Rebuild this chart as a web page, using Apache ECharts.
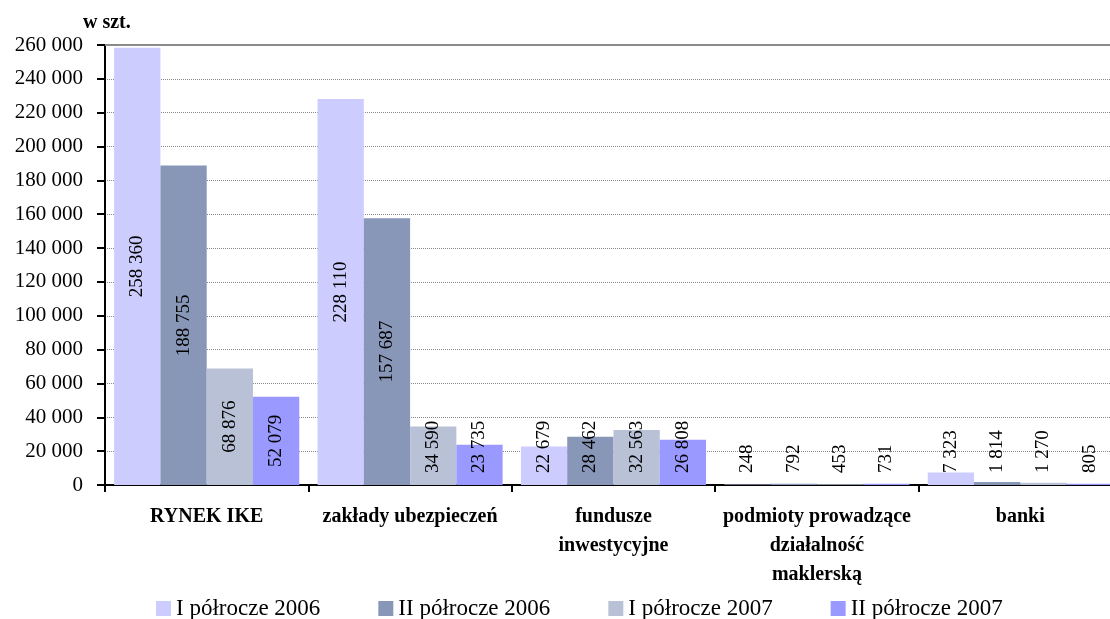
<!DOCTYPE html>
<html>
<head>
<meta charset="utf-8">
<script src="https://cdn.jsdelivr.net/npm/echarts@6/dist/echarts.min.js"></script>
<style>
html,body{margin:0;padding:0;background:#fff;overflow:hidden;width:1110px;height:619px;}
#chart{width:1122px;height:619px;}
</style>
</head>
<body>
<div id="chart"></div>
<script>
const categories = ['RYNEK IKE', 'zakłady ubezpieczeń', 'fundusze\ninwestycyjne', 'podmioty prowadzące\ndziałalność\nmaklerską', 'banki'];
const seriesNames = ['I półrocze 2006', 'II półrocze 2006', 'I półrocze 2007', 'II półrocze 2007'];
const h1_2006 = [258360, 228110, 22679, 248, 7323];
const h2_2006 = [188755, 157687, 28462, 792, 1814];
const h1_2007 = [68876, 34590, 32563, 453, 1270];
const h2_2007 = [52079, 23735, 26808, 731, 805];
const colors = ['#CCCCFF', '#8896B8', '#B8C1D6', '#9999FF'];
const yMin = 0, yMax = 260000, yInterval = 20000;

const FONT = 'Liberation Serif';
function fmt(v) {
  return String(Math.round(v)).replace(/\B(?=(\d{3})+(?!\d))/g, ' ');
}
function buildData(arr) {
  return arr.map(v => {
    if (v >= 45000) {
      return { value: v, label: { position: 'inside', align: 'center', verticalAlign: 'middle' } };
    }
    return { value: v, label: { position: 'insideBottom', distance: 12, align: 'left', verticalAlign: 'middle' } };
  });
}
const allSeries = [h1_2006, h2_2006, h1_2007, h2_2007].map((arr, i) => ({
  name: seriesNames[i],
  type: 'bar',
  barGap: '0%',
  barCategoryGap: '9%',
  itemStyle: { color: colors[i] },
  label: {
    show: true,
    rotate: 90,
    fontFamily: FONT,
    fontSize: 19,
    color: '#000',
    formatter: p => fmt(p.value)
  },
  data: buildData(arr)
}));
allSeries[0].markLine = {
  silent: true,
  symbol: 'none',
  label: { show: false },
  lineStyle: { color: '#8a8a8a', width: 2, type: 'solid' },
  data: [{ yAxis: yMax }]
};

const chart = echarts.init(document.getElementById('chart'));
chart.setOption({
  animation: false,
  textStyle: { fontFamily: FONT },
  title: {
    text: 'w szt.',
    left: 78,
    top: 8,
    textStyle: { fontFamily: FONT, fontSize: 20, fontWeight: 'bold', color: '#000' }
  },
  legend: {
    data: seriesNames,
    left: 151,
    top: 592,
    itemWidth: 15,
    itemHeight: 15,
    itemGap: 58,
    icon: 'rect',
    textStyle: { fontFamily: FONT, fontSize: 23, color: '#000' }
  },
  grid: { left: 105, top: 45, right: 0, height: 440, containLabel: false },
  xAxis: {
    type: 'category',
    data: categories,
    axisLine: { lineStyle: { color: '#000', width: 2 } },
    axisTick: { show: true, length: 7, lineStyle: { color: '#000', width: 2 } },
    axisLabel: {
      fontFamily: FONT, fontSize: 20, fontWeight: 'bold', color: '#000',
      margin: 17, lineHeight: 29, interval: 0
    }
  },
  yAxis: {
    type: 'value',
    min: yMin,
    max: yMax,
    interval: yInterval,
    axisLine: { show: true, lineStyle: { color: '#000', width: 2 } },
    axisTick: { show: true, length: 8, lineStyle: { color: '#000', width: 2 } },
    axisLabel: {
      fontFamily: FONT, fontSize: 21, color: '#000', margin: 22,
      formatter: v => fmt(v)
    },
    splitLine: { show: true, lineStyle: { color: '#888', width: 1, type: 'dotted' } }
  },
  series: allSeries
});
</script>
</body>
</html>
